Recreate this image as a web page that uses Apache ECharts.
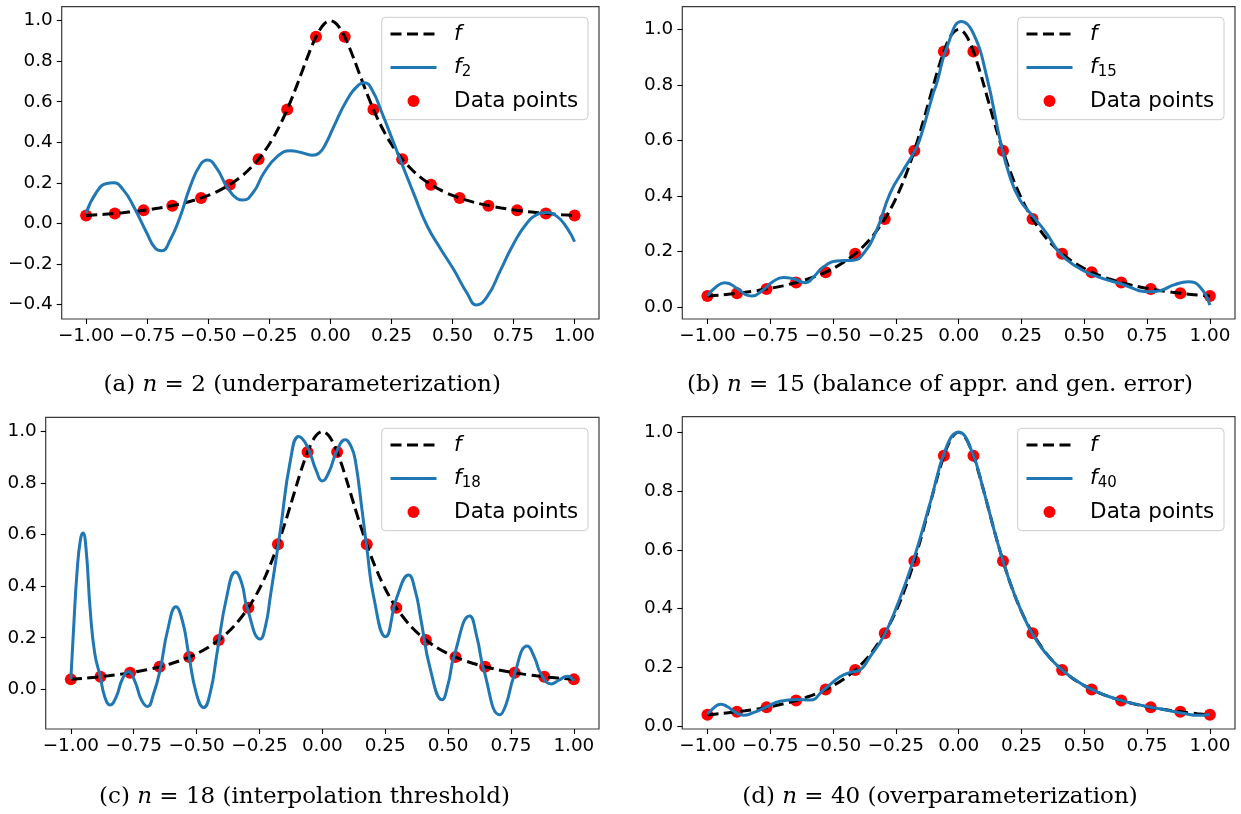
<!DOCTYPE html>
<html>
<head>
<meta charset="utf-8">
<script src="https://cdn.jsdelivr.net/npm/echarts@6/dist/echarts.min.js"></script>
<style>
html,body{margin:0;padding:0;background:#fff;}
#chart{width:1241px;height:814px;}
</style>
</head>
<body>
<div id="chart"></div>
<script>
// ---------- data ----------
// target function f (dashed black)
const fX = [-1.0,-0.95,-0.9,-0.85,-0.8,-0.75,-0.7,-0.65,-0.6,-0.55,-0.5,-0.45,-0.4,-0.35,-0.3,-0.275,-0.25,-0.225,-0.2,-0.175,-0.15,-0.125,-0.1,-0.075,-0.05,-0.025,
  0.0,0.025,0.05,0.075,0.1,0.125,0.15,0.175,0.2,0.225,0.25,0.275,0.3,0.35,0.4,0.45,0.5,0.55,0.6,0.65,0.7,0.75,0.8,0.85,0.9,0.95,1.0];
const fY = [0.0385,0.0424,0.0471,0.0525,0.0588,0.0664,0.0755,0.0865,0.1000,0.1168,0.1379,0.1649,0.2000,0.2462,0.3077,0.3460,0.3902,0.4414,0.5000,0.5664,0.6400,0.7191,0.8000,0.8767,0.9412,0.9846,
  1.0,0.9846,0.9412,0.8767,0.8000,0.7191,0.6400,0.5664,0.5000,0.4414,0.3902,0.3460,0.3077,0.2462,0.2000,0.1649,0.1379,0.1168,0.1000,0.0865,0.0755,0.0664,0.0588,0.0525,0.0471,0.0424,0.0385];

// data points (red)
const ptsX = [-1.0,-0.8824,-0.7647,-0.6471,-0.5294,-0.4118,-0.2941,-0.1765,-0.0588,0.0588,0.1765,0.2941,0.4118,0.5294,0.6471,0.7647,0.8824,1.0];
const ptsY = [0.0385,0.0489,0.0640,0.0872,0.1249,0.1909,0.3162,0.5623,0.9204,0.9204,0.5623,0.3162,0.1909,0.1249,0.0872,0.0640,0.0489,0.0385];

// f_2 (panel a)
const f2X = [-1.0,-0.956,-0.915,-0.888,-0.847,-0.805,-0.751,-0.717,-0.69,-0.656,-0.615,-0.574,-0.533,-0.503,-0.465,-0.424,-0.383,-0.357,-0.314,-0.273,-0.218,-0.164,-0.12,-0.075,-0.045,-0.02,0.014,0.068,0.116,0.139,0.171,0.212,0.26,0.287,0.341,0.396,0.451,0.505,0.56,0.598,0.642,0.697,0.751,0.806,0.847,0.881,0.929,0.97,1.0];
const f2Y = [0.05,0.156,0.197,0.2,0.164,0.082,-0.049,-0.123,-0.135,-0.082,0.033,0.181,0.288,0.312,0.271,0.181,0.123,0.115,0.156,0.247,0.329,0.358,0.35,0.336,0.348,0.39,0.477,0.609,0.683,0.694,0.658,0.543,0.395,0.312,0.148,-0.012,-0.125,-0.228,-0.345,-0.403,-0.362,-0.231,-0.099,0.003,0.044,0.054,0.033,-0.025,-0.091];

// f_15 (panel b)
const f15X = [-1.0,-0.965,-0.93,-0.88,-0.85,-0.823,-0.78,-0.74,-0.698,-0.655,-0.611,-0.575,-0.538,-0.485,-0.419,-0.379,-0.326,-0.273,-0.22,-0.18,-0.154,-0.101,-0.087,-0.045,0.012,0.058,0.112,0.165,0.204,0.244,0.297,0.35,0.403,0.47,0.536,0.642,0.761,0.801,0.86,0.914,0.96,1.0];
const f15Y = [0.039,0.072,0.087,0.065,0.045,0.039,0.06,0.09,0.106,0.1,0.087,0.11,0.144,0.165,0.168,0.192,0.277,0.409,0.493,0.553,0.605,0.77,0.806,0.94,1.028,0.986,0.829,0.601,0.469,0.385,0.325,0.265,0.193,0.144,0.114,0.084,0.054,0.058,0.08,0.09,0.072,0.006];

// f_18 (panel c)
const f18X = [-1.0,-0.99,-0.975,-0.962,-0.952,-0.94,-0.923,-0.905,-0.883,-0.865,-0.844,-0.82,-0.795,-0.771,-0.745,-0.72,-0.695,-0.672,-0.645,-0.615,-0.582,-0.555,-0.532,-0.5,-0.472,-0.445,-0.419,-0.38,-0.345,-0.32,-0.3,-0.247,-0.225,-0.207,-0.167,-0.127,-0.094,-0.07,-0.048,-0.025,0.0,0.025,0.06,0.091,0.115,0.131,0.158,0.178,0.204,0.251,0.297,0.343,0.37,0.39,0.43,0.476,0.5,0.523,0.586,0.615,0.642,0.706,0.73,0.761,0.815,0.845,0.868,0.91,0.94,0.974,1.0];
const f18Y = [0.04,0.22,0.46,0.58,0.606,0.55,0.307,0.14,0.049,-0.03,-0.061,-0.03,0.04,0.068,0.03,-0.04,-0.067,-0.02,0.075,0.23,0.32,0.26,0.139,-0.02,-0.071,-0.01,0.139,0.36,0.455,0.41,0.32,0.195,0.25,0.359,0.617,0.888,0.981,0.96,0.914,0.85,0.808,0.84,0.93,0.968,0.94,0.888,0.694,0.539,0.359,0.204,0.359,0.443,0.38,0.281,0.075,-0.041,0.02,0.126,0.284,0.2,0.075,-0.099,-0.06,0.049,0.168,0.12,0.062,0.021,0.035,0.051,0.033];

// f_40 (panel d)
const f40X = [-1.0,-0.975,-0.947,-0.92,-0.89,-0.857,-0.82,-0.764,-0.711,-0.644,-0.591,-0.538,-0.472,-0.43,-0.393,-0.353,-0.3,-0.247,-0.18,-0.114,-0.048,0.0,0.05,0.1,0.15,0.2,0.25,0.3,0.35,0.4,0.45,0.5,0.55,0.6,0.65,0.7,0.75,0.8,0.85,0.9,0.95,1.0];
const f40Y = [0.041,0.062,0.075,0.066,0.048,0.037,0.045,0.066,0.085,0.091,0.089,0.123,0.168,0.183,0.191,0.236,0.304,0.406,0.565,0.758,0.951,1.0,0.94,0.8,0.64,0.5,0.39,0.305,0.245,0.2,0.166,0.138,0.117,0.1,0.087,0.076,0.067,0.059,0.051,0.043,0.037,0.04];

// ticks
const xTicks = [-1.0,-0.75,-0.5,-0.25,0.0,0.25,0.5,0.75,1.0];
const yTicksA = [-0.4,-0.2,0.0,0.2,0.4,0.6,0.8,1.0];
const yTicksB = [0.0,0.2,0.4,0.6,0.8,1.0];

// labels
const subs = ['2','15','18','40'];
const captions = [
  ['(a) ', '2 (underparameterization)'],
  ['(b) ', '15 (balance of appr. and gen. error)'],
  ['(c) ', '18 (interpolation threshold)'],
  ['(d) ', '40 (overparameterization)']
];

// ---------- layout ----------
const panels = [
  {grid:{left:61.7, top:6.7, width:537.3, height:312.3}, ymin:-0.472, ymax:1.069, yTicks:yTicksA, bx:f2X, by:f2Y,
   legend:{left:381.7, top:17.3}, cap:{x:302.2, y:385}},
  {grid:{left:682.3, top:6.7, width:552.7, height:312.3}, ymin:-0.044, ymax:1.0815, yTicks:yTicksB, bx:f15X, by:f15Y,
   legend:{left:1017.7, top:17.3}, cap:{x:940, y:385}},
  {grid:{left:45.7, top:417.3, width:553.3, height:311.7}, ymin:-0.154, ymax:1.055, yTicks:yTicksB, bx:f18X, by:f18Y,
   legend:{left:381.7, top:428.3}, cap:{x:304.5, y:797}},
  {grid:{left:682.3, top:416.7, width:552.7, height:312.3}, ymin:-0.0096, ymax:1.053, yTicks:yTicksB, bx:f40X, by:f40Y,
   legend:{left:1017.7, top:428.3}, cap:{x:940, y:797}}
];

const zip = (xs, ys) => xs.map((x, i) => [x, ys[i]]);
const minus = '\u2212';
const fmt = (v, d) => (v < -1e-9 ? minus : '') + Math.abs(v).toFixed(d);

const grids = [], xAxes = [], yAxes = [], series = [], legends = [], graphics = [];
const tickFont = {fontFamily:'DejaVu Sans', fontSize:18.4, color:'#000'};
const hidden = {color:'rgba(0,0,0,0)', borderWidth:0, opacity:0};

panels.forEach((p, i) => {
  grids.push(Object.assign({show:true, borderColor:'#3a3a3a', borderWidth:1.2, backgroundColor:'#fff'}, p.grid));
  xAxes.push({
    type:'value', gridIndex:i, min:-1.1, max:1.1, position:'bottom',
    axisLine:{show:false, onZero:false},
    axisTick:{show:true, customValues:xTicks, length:5, lineStyle:{color:'#000', width:1.1}},
    axisLabel:Object.assign({customValues:xTicks, margin:8, formatter:v => fmt(v,2)}, tickFont),
    splitLine:{show:false}
  });
  yAxes.push({
    type:'value', gridIndex:i, min:p.ymin, max:p.ymax, position:'left',
    axisLine:{show:false, onZero:false},
    axisTick:{show:true, customValues:p.yTicks, length:5, lineStyle:{color:'#000', width:1.1}},
    axisLabel:Object.assign({customValues:p.yTicks, margin:9, formatter:v => fmt(v,1)}, tickFont),
    splitLine:{show:false}
  });
  const nf = 'f_' + i, nb = 'fn_' + i, np = 'pts_' + i;
  series.push({
    name:np, type:'scatter', xAxisIndex:i, yAxisIndex:i, z:2,
    data:zip(ptsX, ptsY), symbol:'circle', symbolSize:12,
    itemStyle:{color:'#ff0000', opacity:1}
  });
  series.push({
    name:nf, type:'line', xAxisIndex:i, yAxisIndex:i, z:3,
    data:zip(fX, fY), symbol:'none', showSymbol:false, smooth:0.3,
    lineStyle:{color:'#000', width:3, type:[11,5.5]}, itemStyle:{color:'#000'}
  });
  series.push({
    name:nb, type:'line', xAxisIndex:i, yAxisIndex:i, z:4,
    data:zip(p.bx, p.by), symbol:'none', showSymbol:false, smooth:0.5,
    lineStyle:{color:'#1f77b4', width:3}, itemStyle:{color:'#1f77b4'}
  });
  legends.push({
    orient:'vertical', left:p.legend.left, top:p.legend.top,
    data:[{name:nf, itemStyle:hidden}, {name:nb, itemStyle:hidden}, {name:np, itemStyle:{color:'#ff0000', opacity:1}}],
    selectedMode:false,
    itemWidth:46, itemHeight:12, itemGap:9.5,
    padding:[4.7, 9.7, 6.7, 7.3],
    backgroundColor:'rgba(255,255,255,0.8)', borderColor:'#cccccc', borderWidth:1, borderRadius:4,
    lineStyle:{width:3},
    textStyle:{fontFamily:'DejaVu Sans', fontSize:21.5, color:'#000', lineHeight:24, padding:[0,0,0,12.6],
      rich:{
        i:{fontFamily:'DejaVu Sans', fontStyle:'italic', fontSize:21.5, color:'#000', lineHeight:24},
        s:{fontFamily:'DejaVu Sans', fontSize:15, color:'#000', lineHeight:24, verticalAlign:'bottom'},
        t:{fontFamily:'DejaVu Sans', fontSize:21.5, color:'#000', lineHeight:24}
      }},
    formatter:function(name){
      if (name === nf) return '{i|f}';
      if (name === nb) return '{i|f}{s|' + subs[i] + '}';
      return '{t|Data points}';
    }
  });
  graphics.push({
    type:'text', x:p.cap.x, y:p.cap.y, z:10,
    style:{
      text:captions[i][0] + '{i|n} = ' + captions[i][1],
      align:'center', verticalAlign:'middle',
      fontFamily:'DejaVu Serif', fontSize:23, fill:'#000',
      rich:{i:{fontFamily:'DejaVu Serif', fontStyle:'italic', fontSize:23, fill:'#000'}}
    }
  });
});

const chart = echarts.init(document.getElementById('chart'), null, {renderer:'canvas'});
chart.setOption({
  animation:false,
  backgroundColor:'#fff',
  grid:grids, xAxis:xAxes, yAxis:yAxes, series:series, legend:legends, graphic:graphics
});
</script>
</body>
</html>
